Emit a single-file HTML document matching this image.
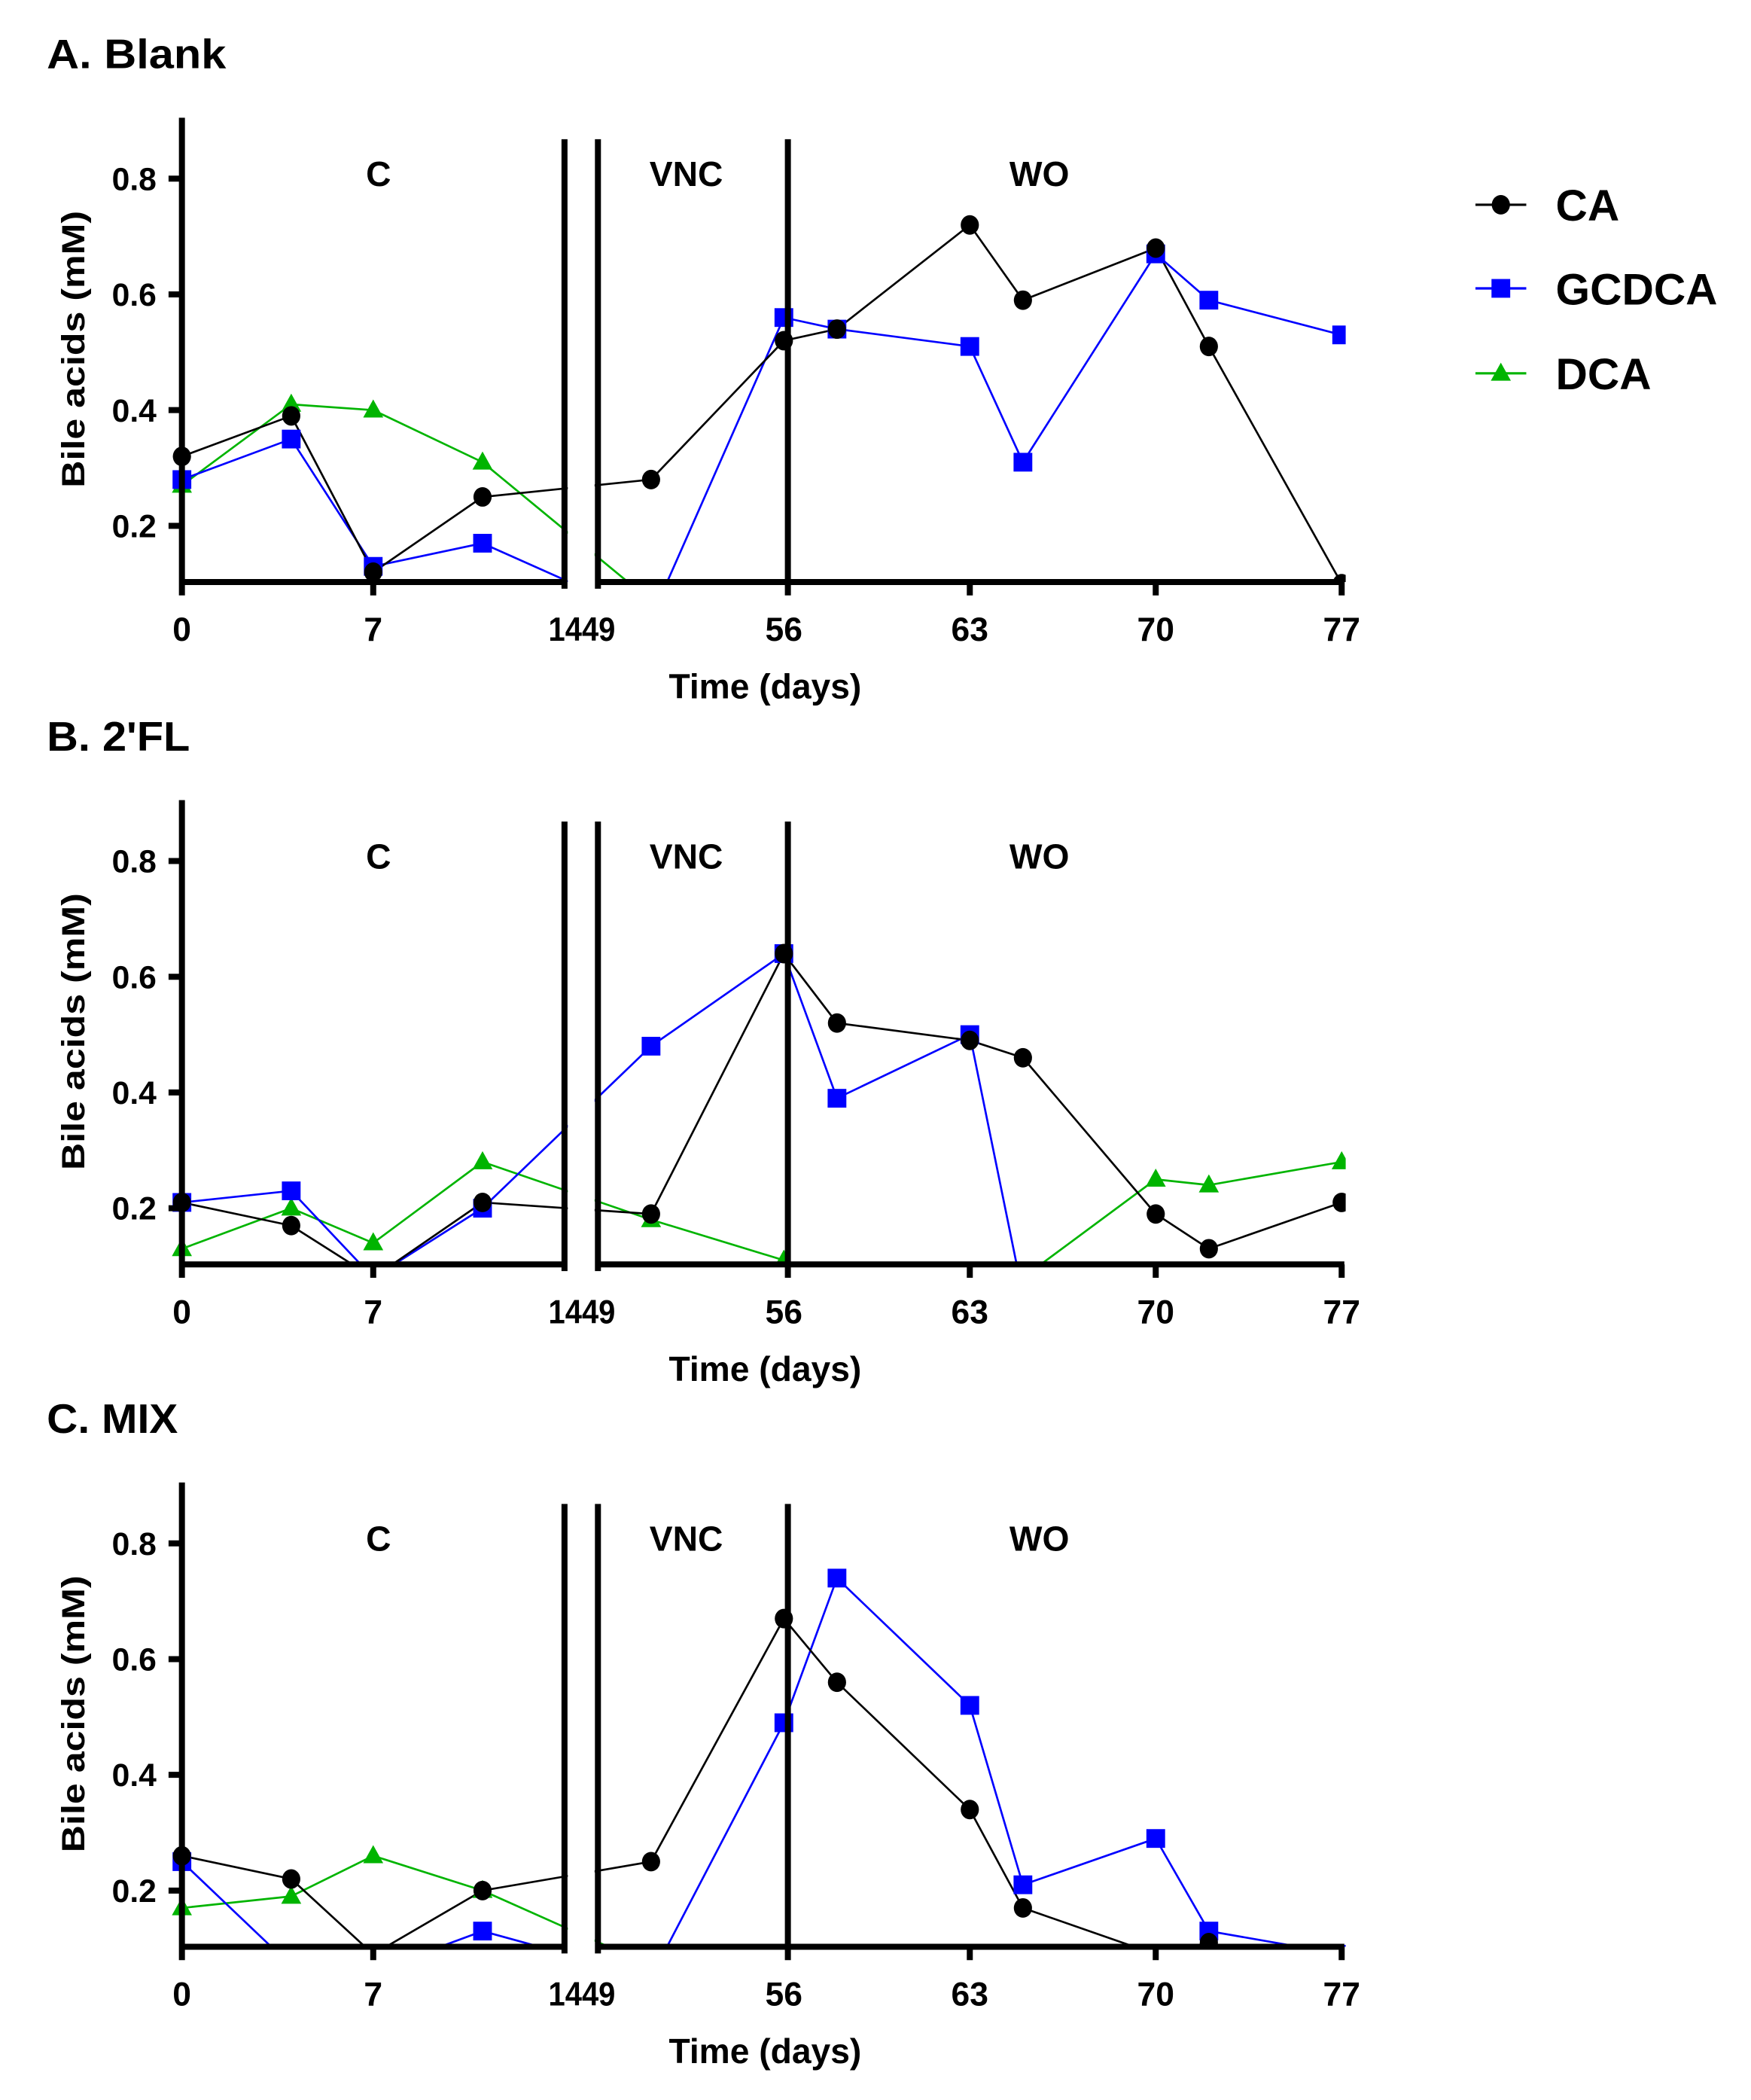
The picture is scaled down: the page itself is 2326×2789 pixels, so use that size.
<!DOCTYPE html>
<html><head><meta charset="utf-8">
<style>
html,body{margin:0;padding:0;background:#fff;}
svg{display:block;}
text{font-family:"Liberation Sans",sans-serif;font-weight:bold;fill:#000;}
</style></head>
<body>
<svg id="s" xmlns="http://www.w3.org/2000/svg" width="2326" height="2789" viewBox="0 0 1309 1569.5"></svg>
<script>
var s=document.getElementById('s');var h='';
function xd(d){return d<=14?136+d*20.43:447+(d-49)*19.857;}
var panels=[
 {t:'A. Blank',o:0,
  CA:[[0,.32],[4,.39],[7,.12],[11,.25],[51,.28],[56,.52],[58,.54],[63,.72],[65,.59],[70,.68],[72,.51],[77,.1]],
  G:[[0,.28],[4,.35],[7,.13],[11,.17],[51,.04],[56,.56],[58,.54],[63,.51],[65,.31],[70,.67],[72,.59],[77,.53]],
  D:[[0,.27],[4,.41],[7,.40],[11,.31],[51,.07]]},
 {t:"B. 2'FL",o:510,
  CA:[[0,.21],[4,.17],[7,.08],[11,.21],[51,.19],[56,.64],[58,.52],[63,.49],[65,.46],[70,.19],[72,.13],[77,.21]],
  G:[[0,.21],[4,.23],[7,.08],[11,.20],[51,.48],[56,.64],[58,.39],[63,.50],[65,.05],[70,.02]],
  D:[[0,.13],[4,.20],[7,.14],[11,.28],[51,.18],[56,.11],[58,.08],[63,.05],[65,.08],[70,.25],[72,.24],[77,.28]]},
 {t:'C. MIX',o:1020,
  CA:[[0,.26],[4,.22],[7,.09],[11,.20],[51,.25],[56,.67],[58,.56],[63,.34],[65,.17],[70,.09],[72,.11],[77,.05]],
  G:[[0,.25],[4,.07],[7,.06],[11,.13],[51,.05],[56,.49],[58,.74],[63,.52],[65,.21],[70,.29],[72,.13],[77,.09]],
  D:[[0,.17],[4,.19],[7,.26],[11,.20],[51,.07]]}
];
panels.forEach(function(p,i){
 var o=p.o;function yv(v){return 393+o-(v-0.2)*432.5;}
 var cid='c'+i;
 h+='<defs><clipPath id="'+cid+'"><rect x="120" y="'+(60+o)+'" width="886" height="'+(375)+'"/></clipPath></defs>';
 h+='<text x="35" y="'+(51+o)+'" font-size="31" textLength="'+(i==0?134:(i==1?107:98))+'" lengthAdjust="spacingAndGlyphs">'+p.t+'</text>';
 h+='<g clip-path="url(#'+cid+')">';
 function line(arr,c,w){h+='<polyline fill="none" stroke="'+c+'" stroke-width="'+w+'" points="'+arr.map(function(q){return xd(q[0]).toFixed(1)+','+yv(q[1]).toFixed(1)}).join(' ')+'"/>';}
 line(p.D,'#00b400',1.5);line(p.G,'#0000ff',1.5);line(p.CA,'#000',1.5);
 p.D.forEach(function(q){var x=xd(q[0]),y=yv(q[1]);h+='<polygon fill="#00b400" points="'+x+','+(y-8)+' '+(x-7.5)+','+(y+5.5)+' '+(x+7.5)+','+(y+5.5)+'"/>';});
 p.G.forEach(function(q){var x=xd(q[0]),y=yv(q[1]);h+='<rect fill="#0000ff" x="'+(x-7)+'" y="'+(y-7)+'" width="14" height="14"/>';});
 p.CA.forEach(function(q){var x=xd(q[0]),y=yv(q[1]);h+='<ellipse fill="#000" cx="'+x+'" cy="'+y+'" rx="6.8" ry="7.3"/>';});
 h+='</g>';
 h+='<rect x="424.5" y="'+(60+o)+'" width="20" height="'+(390)+'" fill="#fff"/>';
 var ax=435+o;
 h+='<g stroke="#000" stroke-width="4.5" fill="none">';
 h+='<line x1="136" y1="'+(88+o)+'" x2="136" y2="'+(ax+10)+'"/>';
 h+='<line x1="134" y1="'+ax+'" x2="422" y2="'+ax+'"/>';
 h+='<line x1="447" y1="'+ax+'" x2="1005" y2="'+ax+'"/>';
 h+='<line x1="422" y1="'+(104+o)+'" x2="422" y2="'+(ax+5)+'"/>';
 h+='<line x1="447" y1="'+(104+o)+'" x2="447" y2="'+(ax+5)+'"/>';
 h+='<line x1="589" y1="'+(104+o)+'" x2="589" y2="'+(ax+10)+'"/>';
 [7,63,70,77].forEach(function(d){h+='<line x1="'+xd(d)+'" y1="'+ax+'" x2="'+xd(d)+'" y2="'+(ax+10)+'"/>';});
 [.2,.4,.6,.8].forEach(function(v){h+='<line x1="126" y1="'+yv(v)+'" x2="136" y2="'+yv(v)+'"/>';});
 h+='</g>';
 [.2,.4,.6,.8].forEach(function(v){h+='<text x="117" y="'+(yv(v)+8.5)+'" font-size="24" text-anchor="end">'+v.toFixed(1)+'</text>';});
 [0,7,56,63,70,77].forEach(function(d){h+='<text x="'+xd(d)+'" y="'+(ax+44)+'" font-size="25" text-anchor="middle">'+d+'</text>';});
 h+='<text x="410" y="'+(ax+44)+'" font-size="25" textLength="50" lengthAdjust="spacingAndGlyphs">1449</text>';
 h+='<text x="572" y="'+(522+o)+'" font-size="26" text-anchor="middle">Time (days)</text>';
 h+='<text transform="translate(63,'+(261+o)+') rotate(-90)" font-size="24" text-anchor="middle" textLength="207" lengthAdjust="spacingAndGlyphs">Bile acids (mM)</text>';
 h+='<text x="283" y="'+(139+o)+'" font-size="26" text-anchor="middle">C</text>';
 h+='<text x="513" y="'+(139+o)+'" font-size="26" text-anchor="middle">VNC</text>';
 h+='<text x="777" y="'+(139+o)+'" font-size="26" text-anchor="middle">WO</text>';
});
h+='<line x1="1103" y1="153" x2="1141" y2="153" stroke="#000" stroke-width="1.8"/><ellipse cx="1122" cy="153" rx="6.8" ry="7.3"/>';
h+='<line x1="1103" y1="215.5" x2="1141" y2="215.5" stroke="#0000ff" stroke-width="1.8"/><rect x="1115" y="208.5" width="14" height="14" fill="#0000ff"/>';
h+='<line x1="1103" y1="279" x2="1141" y2="279" stroke="#00b400" stroke-width="1.8"/><polygon fill="#00b400" points="1122,271 1114.5,284.5 1129.5,284.5"/>';
h+='<text x="1163" y="165" font-size="33">CA</text><text x="1163" y="227.5" font-size="33">GCDCA</text><text x="1163" y="291" font-size="33">DCA</text>';
s.innerHTML=h;
</script>
</body></html>
